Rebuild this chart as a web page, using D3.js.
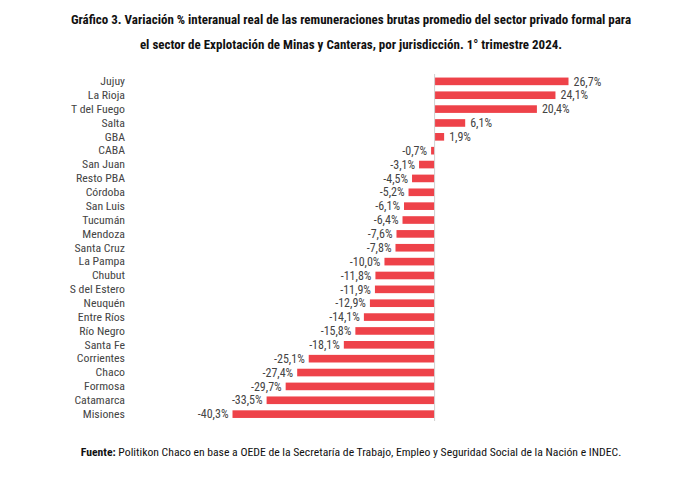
<!DOCTYPE html>
<html>
<head>
<meta charset="utf-8">
<script src="https://cdn.jsdelivr.net/npm/d3@7"></script>
<style>
  body { margin: 0; background: #fff; }
  svg text { font-family: "Liberation Sans Narrow", "Roboto Condensed", "Liberation Sans", sans-serif; }
</style>
</head>
<body>
<div id="chart"></div>
<script>
const provincias = ['Jujuy', 'La Rioja', 'T del Fuego', 'Salta', 'GBA', 'CABA', 'San Juan', 'Resto PBA',
  'Córdoba', 'San Luis', 'Tucumán', 'Mendoza', 'Santa Cruz', 'La Pampa', 'Chubut', 'S del Estero',
  'Neuquén', 'Entre Ríos', 'Río Negro', 'Santa Fe', 'Corrientes', 'Chaco', 'Formosa', 'Catamarca', 'Misiones'];
const variacion = [26.7, 24.1, 20.4, 6.1, 1.9, -0.7, -3.1, -4.5, -5.2, -6.1, -6.4, -7.6, -7.8, -10.0,
  -11.8, -11.9, -12.9, -14.1, -15.8, -18.1, -25.1, -27.4, -29.7, -33.5, -40.3];
const titulo = [
  'Gráfico 3. Variación % interanual real de las remuneraciones brutas promedio del sector privado formal para',
  'el sector de Explotación de Minas y Canteras, por jurisdicción. 1° trimestre 2024.'
];

const data = provincias.map((p, i) => ({ p, v: variacion[i] }));
const W = 698, H = 485;

const svg = d3.select('#chart').append('svg')
  .attr('width', W).attr('height', H);

// title
svg.selectAll('.titulo')
  .data(titulo)
  .enter()
  .append('text')
  .attr('x', 351)
  .attr('y', (d, i) => 24 + i * 24.5)
  .attr('text-anchor', 'middle')
  .attr('font-size', 13)
  .attr('font-weight', 'bold')
  .attr('fill', '#111')
  .text(d => d);

const x = d3.scaleLinear()
  .domain([-40.3, 26.7])
  .range([232.5, 568.5]);

const y = d3.scaleBand()
  .domain(provincias)
  .range([74.5, 421])
  .paddingInner(0.45)
  .paddingOuter(0.22);

// bars
svg.selectAll('.bar')
  .data(data)
  .enter()
  .append('rect')
  .attr('class', 'bar')
  .attr('x', d => x(Math.min(0, d.v)))
  .attr('y', d => y(d.p))
  .attr('width', d => Math.abs(x(d.v) - x(0)))
  .attr('height', y.bandwidth())
  .attr('fill', '#ee4249');

// zero axis line
svg.append('line')
  .attr('x1', x(0)).attr('x2', x(0))
  .attr('y1', 74).attr('y2', 421)
  .attr('stroke', '#d0d0d0')
  .attr('stroke-width', 1);

// category labels
const yAxis = svg.append('g')
  .attr('transform', 'translate(125,0)')
  .call(d3.axisLeft(y).tickSize(0).tickPadding(0));
yAxis.select('.domain').remove();
yAxis.selectAll('text')
  .attr('font-size', 11.8)
  .attr('fill', '#444')
  .style('font-family', '"Liberation Sans Narrow", "Roboto Condensed", "Liberation Sans", sans-serif');

// value labels
const fmt = v => v.toFixed(1).replace('.', ',') + '%';
svg.selectAll('.valor')
  .data(data)
  .enter()
  .append('text')
  .attr('class', 'valor')
  .attr('x', d => d.v >= 0 ? x(d.v) + 5 : x(d.v) - 4)
  .attr('y', d => y(d.p) + y.bandwidth() / 2)
  .attr('dy', '0.35em')
  .attr('text-anchor', d => d.v >= 0 ? 'start' : 'end')
  .attr('font-size', 12)
  .attr('fill', '#444')
  .text(d => fmt(d.v));

// source
const fuente = svg.append('text')
  .attr('x', 351)
  .attr('y', 456)
  .attr('text-anchor', 'middle')
  .attr('font-size', 11.7)
  .attr('fill', '#111');
fuente.append('tspan').attr('font-weight', 'bold').text('Fuente:');
fuente.append('tspan').text(' Politikon Chaco en base a OEDE de la Secretaría de Trabajo, Empleo y Seguridad Social de la Nación e INDEC.');
</script>
</body>
</html>
